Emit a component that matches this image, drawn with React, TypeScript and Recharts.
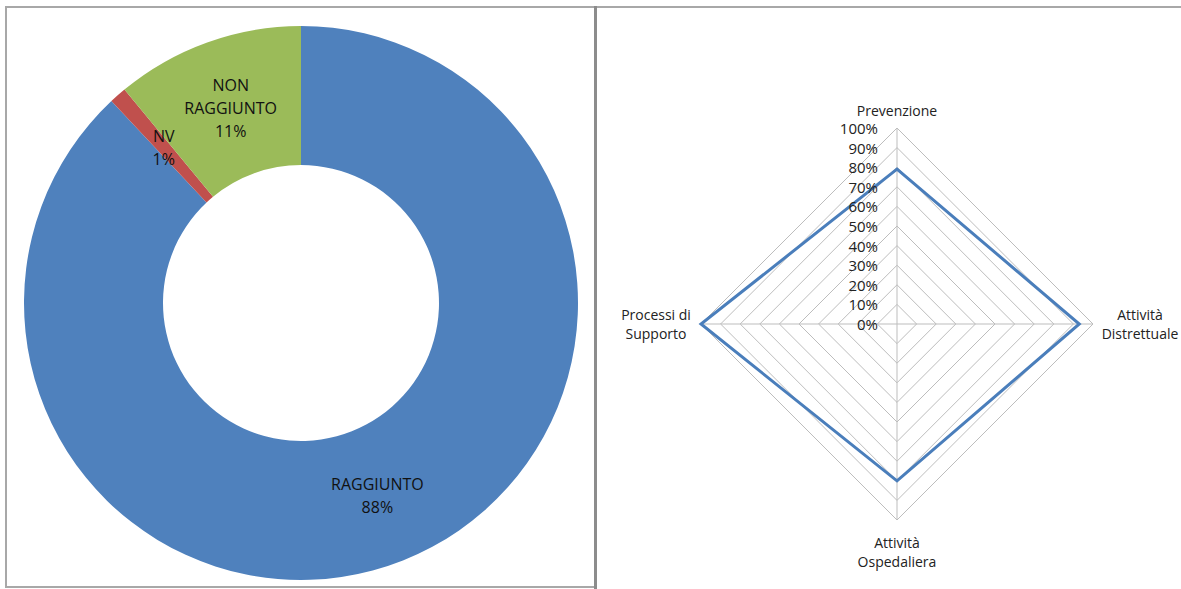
import React from 'react';
import { PieChart, Pie, Cell, RadarChart, Radar, PolarGrid, PolarAngleAxis, PolarRadiusAxis } from 'recharts';

// ---- Donut data ----
const statusNames = ['RAGGIUNTO', 'NV', 'NON RAGGIUNTO'];
const statusValues = [88, 1, 11];
const statusColors = ['#4F81BD', '#C0504D', '#9BBB59'];

// ---- Radar data ----
const areaLabels = ['Prevenzione', 'Attività\nDistrettuale', 'Attività\nOspedaliera', 'Processi di\nSupporto'];
const areaValues = [79, 93, 80, 100];
const radiusTicks = [0, 10, 20, 30, 40, 50, 60, 70, 80, 90, 100];

const pieData = statusNames.map((name, i) => ({ name, value: statusValues[i] }));
const radarData = areaLabels.map((area, i) => ({ area, value: areaValues[i] }));

const FONT = '"Open Sans", "Liberation Sans", sans-serif';
const RADIAN = Math.PI / 180;

const PIE_CX = 301;
const PIE_CY = 303;
const RAD_CX = 299;
const RAD_CY = 324;

const renderPieLabel = (props: any) => {
  const { cx, cy, midAngle, innerRadius, outerRadius, name, percent } = props;
  const r = (innerRadius + outerRadius) / 2;
  const x = cx + r * Math.cos(-midAngle * RADIAN);
  const y = cy + r * Math.sin(-midAngle * RADIAN);
  const lines = [...String(name).split(' '), `${Math.round(percent * 100)}%`];
  const lh = 23;
  const y0 = y - ((lines.length - 1) * lh) / 2;
  return (
    <text x={x} y={y0} textAnchor="middle" fill="#111" fontFamily={FONT} fontSize={16}>
      {lines.map((l, i) => (
        <tspan key={i} x={x} y={y0 + i * lh} dominantBaseline="central">
          {l}
        </tspan>
      ))}
    </text>
  );
};

const AngleTick = (props: any) => {
  const { x, y, payload } = props;
  const lines = String(payload.value).split('\n');
  const dx = x - RAD_CX;
  const dy = y - RAD_CY;
  let cxText = x;
  let firstY = y;
  const lh = 19.5;
  if (Math.abs(dx) < 1 && dy < 0) {
    cxText = x;
    firstY = y - 10 - (lines.length - 1) * lh;
  } else if (Math.abs(dx) < 1 && dy > 0) {
    cxText = x;
    firstY = y + 14;
  } else if (dx > 0) {
    cxText = x + 39;
    firstY = y - ((lines.length - 1) * lh) / 2;
  } else {
    cxText = x - 37;
    firstY = y - ((lines.length - 1) * lh) / 2;
  }
  return (
    <text x={cxText} y={firstY} textAnchor="middle" fill="#222" fontFamily={FONT} fontSize={14}>
      {lines.map((l, i) => (
        <tspan key={i} x={cxText} y={firstY + i * lh} dominantBaseline="central">
          {l}
        </tspan>
      ))}
    </text>
  );
};

const RadiusTick = (props: any) => {
  const { x, y, payload } = props;
  return (
    <text x={x - 19} y={y} textAnchor="end" dominantBaseline="central" fill="#222" fontFamily={FONT} fontSize={15}>
      {`${payload.value}%`}
    </text>
  );
};

const line = (style: React.CSSProperties) => <div style={{ position: 'absolute', ...style }} />;

export default function App() {
  return (
    <div style={{ position: 'absolute', left: 0, top: 0, width: 1181, height: 589, background: '#fff', overflow: 'hidden' }}>
      <div style={{ position: 'absolute', left: 0, top: 0, width: 594, height: 589 }}>
        <PieChart width={594} height={589} margin={{ top: 0, right: 0, bottom: 0, left: 0 }}>
          <Pie
            data={pieData}
            dataKey="value"
            nameKey="name"
            cx={PIE_CX}
            cy={PIE_CY}
            innerRadius={138}
            outerRadius={277}
            startAngle={90}
            endAngle={-270}
            stroke="none"
            label={renderPieLabel}
            labelLine={false}
            isAnimationActive={false}
          >
            {pieData.map((d, i) => (
              <Cell key={d.name} fill={statusColors[i]} />
            ))}
          </Pie>
        </PieChart>
      </div>
      <div style={{ position: 'absolute', left: 598, top: 0, width: 583, height: 589 }}>
        <RadarChart
          width={583}
          height={589}
          data={radarData}
          cx={RAD_CX}
          cy={RAD_CY}
          outerRadius={196}
          margin={{ top: 0, right: 0, bottom: 0, left: 0 }}
        >
          <PolarGrid gridType="polygon" stroke="#bdbdbd" strokeWidth={1} />
          <PolarAngleAxis dataKey="area" tick={<AngleTick />} tickLine={false} axisLine={false} />
          <PolarRadiusAxis
            angle={90}
            domain={[0, 100]}
            ticks={radiusTicks}
            tickCount={11}
            axisLine={false}
            tickLine={false}
            tick={<RadiusTick />}
          />
          <Radar dataKey="value" stroke="#4A7EBB" strokeWidth={3} fill="none" fillOpacity={0} dot={false} isAnimationActive={false} />
        </RadarChart>
      </div>
      {line({ left: 5, top: 6, width: 1176, height: 2, background: '#a8a8a8' })}
      {line({ left: 5, top: 6, width: 2, height: 582, background: '#a8a8a8' })}
      {line({ left: 5, top: 586, width: 592, height: 2, background: '#a8a8a8' })}
      {line({ left: 594, top: 6, width: 3, height: 583, background: '#8c8c8c' })}
    </div>
  );
}
